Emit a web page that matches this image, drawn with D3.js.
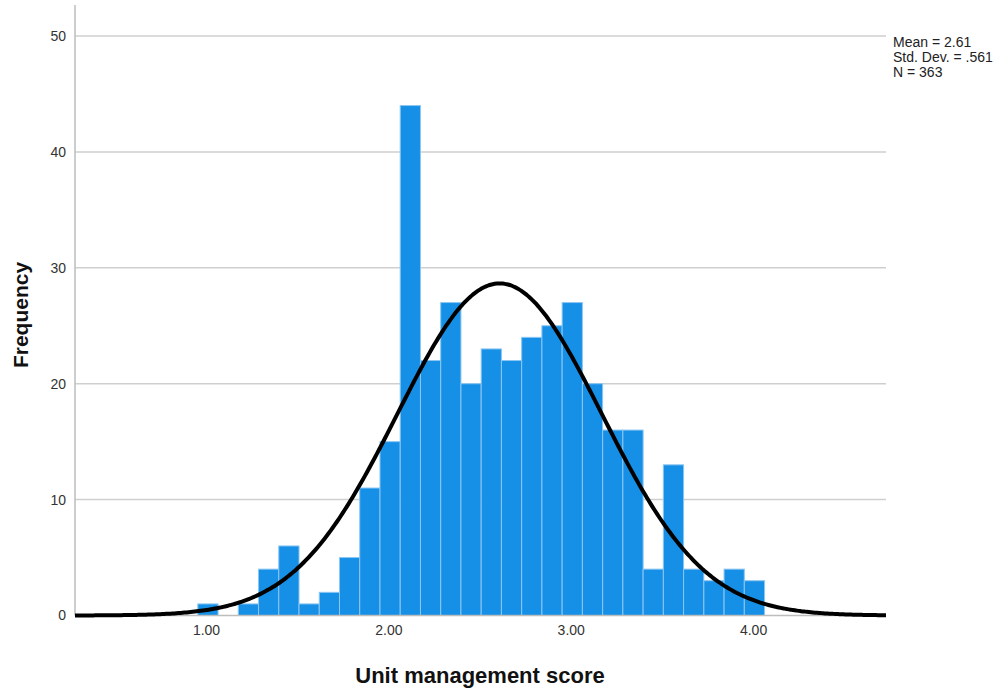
<!DOCTYPE html>
<html>
<head>
<meta charset="utf-8">
<script src="https://cdn.jsdelivr.net/npm/d3@7"></script>
<style>
  html, body { margin: 0; padding: 0; background: #fff; }
  svg { display: block; font-family: "Liberation Sans", Arial, sans-serif; }
</style>
</head>
<body>
<svg id="chart" width="1004" height="689"></svg>
<script>
// Histogram of unit management scores with fitted normal curve
const binStart = 0.955;
const binWidth = 0.111;
const frequencies = [1, 0, 1, 4, 6, 1, 2, 5, 11, 15, 44, 22, 27, 20, 23, 22, 24, 25, 27, 20, 16, 16, 4, 13, 4, 3, 4, 3];
const xTickValues = [1, 2, 3, 4];
const yTickValues = [0, 10, 20, 30, 40, 50];
const stats = ["Mean = 2.61", "Std. Dev. = .561", "N = 363"];
const mean = 2.61, sd = 0.561, n = 363;

const svg = d3.select("#chart");
const plotLeft = 75, plotRight = 886, plotTop = 5, plotBottom = 615.5;

const x = d3.scaleLinear().domain([0.2815, 4.729]).range([plotLeft, plotRight]);
const y = d3.scaleLinear().domain([0, 50]).range([plotBottom, 36]);

const bins = frequencies.map((f, i) => ({ x0: binStart + i * binWidth, x1: binStart + (i + 1) * binWidth, f }));

// gridlines
svg.append("g")
  .selectAll("line")
  .data(yTickValues.filter(d => d > 0))
  .join("line")
  .attr("x1", plotLeft).attr("x2", plotRight)
  .attr("y1", d => y(d)).attr("y2", d => y(d))
  .attr("stroke", "#cfcfcf").attr("stroke-width", 1.5);

// bars
svg.append("g")
  .selectAll("rect")
  .data(bins.filter(b => b.f > 0))
  .join("rect")
  .attr("x", b => x(b.x0))
  .attr("y", b => y(b.f))
  .attr("width", b => x(b.x1) - x(b.x0))
  .attr("height", b => y(0) - y(b.f))
  .attr("fill", "#1590e6")
  .attr("stroke", "#8cc6f2")
  .attr("stroke-width", 1);

// axes
const yAxis = d3.axisLeft(y).tickValues(yTickValues).tickSize(0).tickPadding(9).tickFormat(d3.format("d"));
const yG = svg.append("g").attr("transform", `translate(${plotLeft},0)`).call(yAxis);
yG.select(".domain").attr("stroke", "#bdbdbd").attr("stroke-width", 1.5).attr("d", `M0,${plotTop}V${plotBottom}`);
yG.selectAll("text").attr("font-size", 14).attr("fill", "#333");

const xAxis = d3.axisBottom(x).tickValues(xTickValues).tickSize(0).tickPadding(10).tickFormat(d3.format(".2f"));
const xG = svg.append("g").attr("transform", `translate(0,${plotBottom})`).call(xAxis);
xG.select(".domain").attr("stroke", "#bdbdbd").attr("stroke-width", 1.5).attr("d", `M${plotLeft},0H${plotRight}`);
xG.selectAll("text").attr("font-size", 14).attr("fill", "#333");

// normal curve scaled to counts per bin
const pdf = v => Math.exp(-0.5 * ((v - mean) / sd) ** 2) / (sd * Math.sqrt(2 * Math.PI));
const curvePts = d3.range(0, 401).map(i => {
  const v = x.domain()[0] + (x.domain()[1] - x.domain()[0]) * i / 400;
  return [v, n * binWidth * pdf(v)];
});
svg.append("path")
  .datum(curvePts)
  .attr("fill", "none")
  .attr("stroke", "#000")
  .attr("stroke-width", 4)
  .attr("d", d3.line().x(d => x(d[0])).y(d => y(d[1])).curve(d3.curveBasis));

// axis titles
svg.append("text")
  .attr("x", 480).attr("y", 683)
  .attr("text-anchor", "middle")
  .attr("font-size", 22).attr("font-weight", "bold").attr("fill", "#111")
  .text("Unit management score");

svg.append("text")
  .attr("transform", "translate(28,315) rotate(-90)")
  .attr("text-anchor", "middle")
  .attr("font-size", 21).attr("font-weight", "bold").attr("fill", "#111")
  .text("Frequency");

// summary statistics
svg.append("g")
  .selectAll("text")
  .data(stats)
  .join("text")
  .attr("x", 893)
  .attr("y", (d, i) => 47 + i * 15)
  .attr("font-size", 14).attr("fill", "#222")
  .text(d => d);
</script>
</body>
</html>
